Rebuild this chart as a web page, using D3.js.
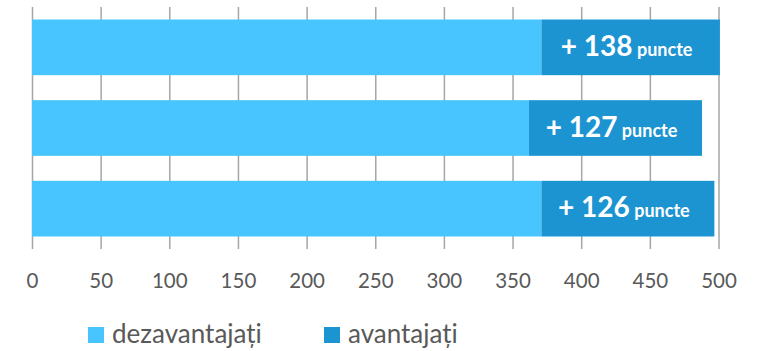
<!DOCTYPE html>
<html>
<head>
<meta charset="utf-8">
<script src="https://cdn.jsdelivr.net/npm/d3@7"></script>
<style>
  body { margin: 0; background: #fff; }
  svg { font-family: Lato, "Open Sans", sans-serif; }
</style>
</head>
<body>
<svg width="765" height="351"></svg>
<script>
// one row per bar, top to bottom
var rows = ["r1", "r2", "r3"];
var dezavantajati = [371, 362, 371];
var avantajati = [130, 126, 126];
var gapLabels = ["138", "127", "126"];
var ticks = [0, 50, 100, 150, 200, 250, 300, 350, 400, 450, 500];
var seriesNames = ["dezavantajați", "avantajați"];
var seriesColors = ["#48C5FF", "#1C94D2"];

var svg = d3.select("svg");

// plot area (note: "top" is reserved on window, so use other names)
var plotLeft = 32, plotRight = 718.5, plotTop = 7, plotBottom = 249;

var x = d3.scaleLinear()
    .domain([0, 500])
    .range([plotLeft, plotRight]);

var y = d3.scaleBand()
    .domain(rows)
    .range([plotTop, plotBottom])
    .paddingInner(0.31)
    .paddingOuter(0.155);

// vertical gridlines + tick labels
var axis = svg.append("g")
    .attr("transform", "translate(0," + plotBottom + ")")
    .call(d3.axisBottom(x)
        .tickValues(ticks)
        .tickSize(-(plotBottom - plotTop))
        .tickSizeOuter(0));
axis.select(".domain").remove();
axis.selectAll(".tick line")
    .attr("stroke", "#A6A6A6")
    .attr("stroke-width", 1.5);
axis.selectAll(".tick text")
    .attr("y", 39)
    .attr("dy", 0)
    .attr("fill", "#595959")
    .attr("font-size", 20.5)
    .attr("font-family", "Lato, sans-serif");

// stacked bars
var stackData = rows.map(function(r, i) {
  return { row: r, a: dezavantajati[i], b: avantajati[i], label: gapLabels[i] };
});

var bars = svg.append("g")
  .selectAll("g")
  .data(stackData)
  .enter().append("g");

bars.append("rect")
    .attr("x", x(0))
    .attr("y", function(d) { return y(d.row); })
    .attr("width", function(d) { return x(d.a) - x(0); })
    .attr("height", y.bandwidth())
    .attr("fill", seriesColors[0]);

bars.append("rect")
    .attr("x", function(d) { return x(d.a); })
    .attr("y", function(d) { return y(d.row); })
    .attr("width", function(d) { return x(d.a + d.b) - x(d.a); })
    .attr("height", y.bandwidth())
    .attr("fill", seriesColors[1]);

var lbl = bars.append("text")
    .attr("x", function(d) { return (x(d.a) + x(d.a + d.b)) / 2 - 4; })
    .attr("y", function(d) { return y(d.row) + y.bandwidth() / 2 + 8.5; })
    .attr("text-anchor", "middle")
    .attr("fill", "#fff")
    .attr("font-weight", "bold");
lbl.append("tspan")
    .attr("font-size", 28)
    .text(function(d) { return "+ " + d.label; });
lbl.append("tspan")
    .attr("font-size", 18)
    .text(" puncte");

// legend
var legendX = [88, 324];
var legend = svg.append("g")
  .selectAll("g")
  .data(seriesNames)
  .enter().append("g")
    .attr("transform", function(d, i) { return "translate(" + legendX[i] + ",327)"; });

legend.append("rect")
    .attr("width", 16)
    .attr("height", 16)
    .attr("fill", function(d, i) { return seriesColors[i]; });

legend.append("text")
    .attr("x", 24)
    .attr("y", 16)
    .attr("fill", "#595959")
    .attr("font-size", 26)
    .text(function(d) { return d; });
</script>
</body>
</html>
